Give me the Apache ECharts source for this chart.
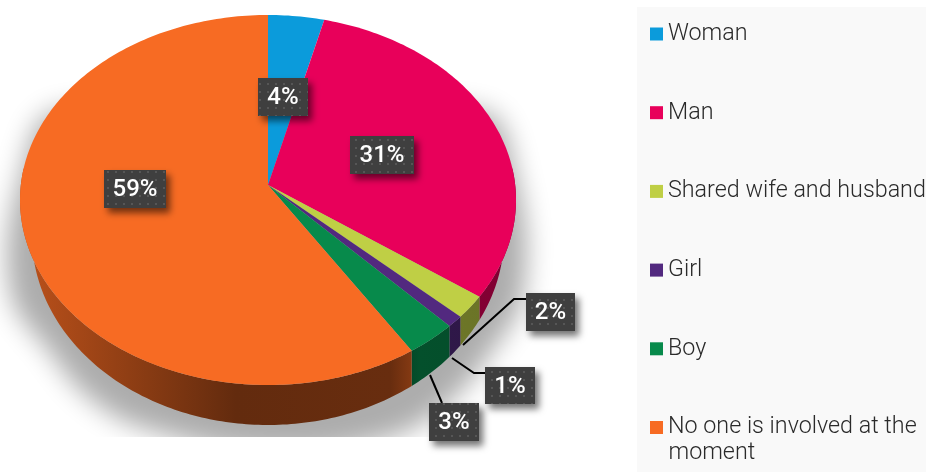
<!DOCTYPE html>
<html>
<head>
<meta charset="utf-8">
<style>html,body{margin:0;padding:0;background:#fff}#c{width:926px;height:472px}</style>
<script src="https://cdn.jsdelivr.net/npm/echarts@6/dist/echarts.min.js"></script>
</head>
<body>
<div id="c"></div>
<script>
const categories = ['Woman', 'Man', 'Shared wife and husband', 'Girl', 'Boy', 'No one is involved at the moment'];
const percentValues = [4, 31, 2, 1, 3, 59];
const sliceColors = ['#0b9bdb', '#e8005a', '#bfcf45', '#52297f', '#078a4b', '#f76b23'];
const legendWrapAfter = 'No one is involved at the';
const legendWrapLine = 'moment';

// geometry of the tilted disc
const top3d = {apexX: 268, apexY: 185, cx: 268, cy: 200, rx: 248, ry: 185};
const base3d = {cx: 268, cy: 236, rx: 236, ry: 189};
const foreshorten = 0.91;
const wallStart = 80, wallEnd = 280;

// label boxes and their leader lines, by slice
const labelLayout = [
  {box: [258, 78, 50, 38]},
  {box: [350, 136, 64, 38]},
  {box: [526, 293, 49, 38], leader: [[463, 345], [514, 299], [526, 299]]},
  {box: [485, 367, 50, 37], leader: [[452, 358], [474, 373], [485, 373]]},
  {box: [429, 403, 50, 38], leader: [[430, 375], [442, 403]]},
  {box: [104, 170, 62, 38]}
];
// soft shadow: the shape is drawn off-canvas so only its blurred shadow lands on the chart
const shadowShift = 2000;
const shadowOutline = [[60, 110], [21, 175], [10, 290], [50, 352], [92, 400], [150, 430], [268, 452],
  [380, 440], [442, 408], [494, 348], [524, 290], [516, 175], [480, 110]];

const total = percentValues.reduce((a, b) => a + b, 0);
const rad = d => d * Math.PI / 180;
function toRim(theta) {
  const h = rad(theta) / 2;
  return 2 * Math.atan2(foreshorten * Math.sin(h), Math.cos(h)) * 180 / Math.PI;
}
function pt(g, t) {
  return [g.cx + g.rx * Math.sin(rad(t)), g.cy - g.ry * Math.cos(rad(t))];
}
function arc(g, a, b) {
  const out = [], n = Math.max(2, Math.ceil(Math.abs(b - a)));
  for (let i = 0; i <= n; i++) out.push(pt(g, a + (b - a) * i / n));
  return out;
}
// the base angle that sits straight below a rim angle
function toBase(t) {
  const s = Math.max(-1, Math.min(1, Math.sin(rad(t)) * top3d.rx / base3d.rx));
  const a = Math.asin(s) * 180 / Math.PI;
  return t < 90 ? a : 180 - a;
}
function shade(hex, f) {
  const n = parseInt(hex.slice(1), 16);
  const c = [n >> 16, (n >> 8) & 255, n & 255].map(v => Math.round(v * f));
  return 'rgb(' + c.join(',') + ')';
}
function wallFill(color) {
  const stops = [[0, .74], [.2, .58], [.42, .4], [.74, .42], [.8, .58], [1, .55]];
  return {type: 'linear', x: 33, y: 0, x2: 516, y2: 0, global: true,
    colorStops: stops.map(s => ({offset: s[0], color: shade(color, s[1])}))};
}

const tile = document.createElement('canvas');
tile.width = tile.height = 8;
(function () {
  const c = tile.getContext('2d');
  c.fillStyle = '#3f3f3f'; c.fillRect(0, 0, 8, 8);
  c.fillStyle = '#565656'; c.fillRect(3, 3, 2, 2);
})();

let acc = 0;
const spans = percentValues.map(v => {
  const s = [acc, acc + v]; acc += v; return s;
});

const sliceSeries = categories.map((name, i) => ({
  type: 'custom',
  name: name,
  coordinateSystem: 'none',
  z: 3,
  silent: true,
  animation: false,
  itemStyle: {color: sliceColors[i]},
  data: [[percentValues[i]]],
  renderItem: function (params, api) {
    const start = toRim(spans[i][0] / total * 360);
    const end = toRim((spans[i][0] + api.value(0)) / total * 360);
    const children = [];
    const wa = Math.max(start, wallStart), wb = Math.min(end, wallEnd);
    if (wb > wa) {
      children.push({type: 'polygon',
        shape: {points: arc(top3d, wa, wb).concat(arc(base3d, toBase(wb), toBase(wa)))},
        style: {fill: wallFill(sliceColors[i])}});
    }
    children.push({type: 'polygon',
      shape: {points: [[top3d.apexX, top3d.apexY]].concat(arc(top3d, start, end))},
      style: {fill: sliceColors[i]}});
    return {type: 'group', children: children};
  }
}));

const labelSeries = {
  type: 'custom',
  name: 'Percent labels',
  coordinateSystem: 'none',
  z: 5,
  silent: true,
  animation: false,
  data: percentValues.map(v => [v]),
  renderItem: function (params, api) {
    const l = labelLayout[params.dataIndex], b = l.box, children = [];
    if (l.leader) children.push({type: 'polyline', shape: {points: l.leader},
      style: {stroke: '#000', lineWidth: 2, fill: null}});
    children.push({type: 'rect', shape: {x: b[0], y: b[1], width: b[2], height: b[3]},
      style: {fill: {image: tile, repeat: 'repeat'}, shadowBlur: 7, shadowOffsetX: 4, shadowOffsetY: 5, shadowColor: 'rgba(0,0,0,0.55)'}});
    children.push({type: 'text', style: {x: b[0] + b[2] / 2, y: b[1] + b[3] / 2 + 1,
      text: api.value(0) + '%', fill: '#fff', align: 'center', verticalAlign: 'middle',
      font: '500 24px Roboto'}});
    return {type: 'group', children: children};
  }
};

const legendFont = {fontFamily: 'Roboto', fontWeight: 300, fontSize: 23.3, lineHeight: 28, color: '#2a2a2a'};
const chart = echarts.init(document.getElementById('c'), null, {renderer: 'canvas'});
chart.setOption({
  animation: false,
  backgroundColor: '#fff',
  tooltip: {show: false},
  graphic: [
    {type: 'rect', z: 0, shape: {x: 637, y: 7, width: 289, height: 465}, style: {fill: '#f9f9f9'}, silent: true},
    {type: 'polygon', z: 1, silent: true,
      shape: {points: shadowOutline.map(p => [p[0] - shadowShift, p[1]]), smooth: 0.4},
      style: {fill: '#000', shadowBlur: 26, shadowOffsetX: shadowShift, shadowColor: '#adadad'}},
    {type: 'rect', z: 2, shape: {x: 0, y: 437, width: 630, height: 35}, style: {fill: '#fff'}, silent: true},
    {type: 'text', z: 6, silent: true, style: {x: 668.5, y: 453, text: legendWrapLine, verticalAlign: 'middle',
      font: '300 23.3px Roboto', fill: legendFont.color}}
  ],
  legend: {
    orient: 'vertical',
    left: 650,
    top: 20,
    padding: 0,
    itemWidth: 13,
    itemHeight: 13,
    itemGap: 50.7,
    icon: 'rect',
    selectedMode: false,
    data: categories,
    formatter: name => name.indexOf(legendWrapAfter) === 0 ? legendWrapAfter : name,
    textStyle: legendFont
  },
  series: sliceSeries.concat([labelSeries])
});
</script>
</body>
</html>
